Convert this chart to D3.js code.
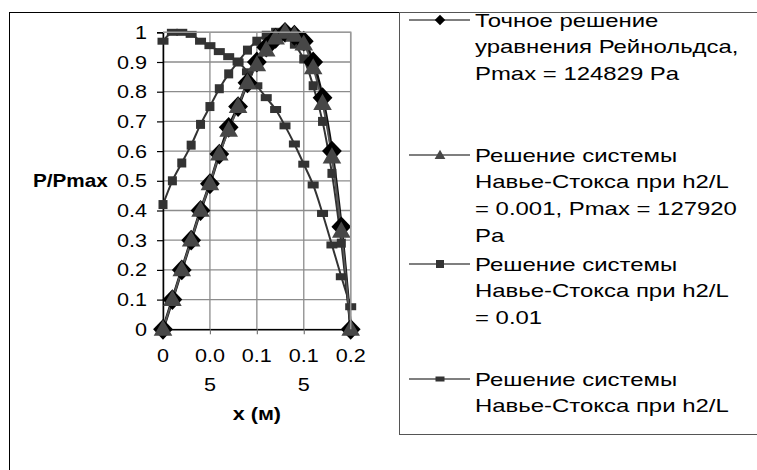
<!DOCTYPE html>
<html>
<head>
<meta charset="utf-8">
<script src="https://cdn.jsdelivr.net/npm/d3@7"></script>
<style>
  body { margin: 0; background: #fff; }
  svg { display: block; font-family: "Liberation Sans", Arial, sans-serif; }
</style>
</head>
<body>
<div id="chart"></div>
<script>
// x positions along the bearing (m)
var xValues = [0, 0.01, 0.02, 0.03, 0.04, 0.05, 0.06, 0.07, 0.08, 0.09, 0.1,
	0.11, 0.12, 0.13, 0.14, 0.15, 0.16, 0.17, 0.18, 0.19, 0.2];

// P/Pmax for each solution
var reynolds = [0, 0.10, 0.20, 0.30, 0.40, 0.49, 0.59, 0.68, 0.75, 0.83, 0.90,
	0.95, 0.98, 1.0, 0.99, 0.97, 0.90, 0.78, 0.60, 0.345, 0];
var ns0001 = [0, 0.10, 0.20, 0.30, 0.40, 0.49, 0.59, 0.67, 0.75, 0.83, 0.89,
	0.94, 0.98, 1.0, 0.99, 0.96, 0.88, 0.76, 0.58, 0.33, 0];
var ns001 = [0.42, 0.50, 0.56, 0.62, 0.69, 0.75, 0.81, 0.86, 0.90, 0.94, 0.97,
	0.99, 1.0, 0.995, 0.96, 0.91, 0.82, 0.70, 0.525, 0.29, 0];
var nsOther = [0.97, 1.0, 1.0, 0.993, 0.97, 0.955, 0.935, 0.918, 0.90, 0.867, 0.82,
	0.78, 0.74, 0.685, 0.624, 0.556, 0.486, 0.39, 0.284, 0.177, 0.076];

var yTicks = [0, 0.1, 0.2, 0.3, 0.4, 0.5, 0.6, 0.7, 0.8, 0.9, 1];
var xTicks = [0, 0.05, 0.1, 0.15, 0.2];
// Excel wrapped the x tick labels
var xTickLabels = [["0"], ["0.0", "5"], ["0.1"], ["0.1", "5"], ["0.2"]];

var legendLabels = [
	["Точное решение", "уравнения Рейнольдса,", "Pmax = 124829 Pa"],
	["Решение системы", "Навье-Стокса при h2/L", "= 0.001, Pmax = 127920", "Pa"],
	["Решение системы", "Навье-Стокса при h2/L", "= 0.01"],
	["Решение системы", "Навье-Стокса при h2/L"]
];

var width = 757, height = 470;
var plot = { left: 163, right: 350.7, top: 32.3, bottom: 329.3 };
var textScale = 1.2;   // the original text is drawn wider than the font
var legendScale = 1.33;

var svg = d3.select("#chart").append("svg")
	.attr("width", width)
	.attr("height", height);

svg.append("rect").attr("width", width).attr("height", height).attr("fill", "#fff");

// outer chart border (runs off the right and bottom edges)
svg.append("rect")
	.attr("x", 9.5).attr("y", 12.5)
	.attr("width", 900).attr("height", 600)
	.attr("fill", "none").attr("stroke", "#000");

var x = d3.scaleLinear().domain([0, 0.2]).range([plot.left, plot.right]);
var y = d3.scaleLinear().domain([0, 1]).range([plot.bottom, plot.top]);

// grid
var grid = svg.append("g");
grid.selectAll("line.h").data(yTicks).enter().append("line")
	.attr("x1", plot.left).attr("x2", plot.right)
	.attr("y1", function(d) { return y(d); })
	.attr("y2", function(d) { return y(d); })
	.attr("stroke", "#8c8c8c").attr("stroke-width", 1.3);
grid.selectAll("line.v").data(xTicks).enter().append("line")
	.attr("x1", function(d) { return x(d); })
	.attr("x2", function(d) { return x(d); })
	.attr("y1", plot.top).attr("y2", plot.bottom)
	.attr("stroke", "#8c8c8c").attr("stroke-width", 1.3);

// axes
var yAxis = svg.append("g")
	.attr("transform", "translate(" + plot.left + ",0)")
	.call(d3.axisLeft(y).tickValues(yTicks).tickSize(6).tickFormat(""));
var xAxis = svg.append("g")
	.attr("transform", "translate(0," + plot.bottom + ")")
	.call(d3.axisBottom(x).tickValues(xTicks).tickSize(5).tickFormat(""));
[yAxis, xAxis].forEach(function(a) {
	a.select(".domain").attr("stroke", "#000").attr("stroke-width", 1.5);
	a.selectAll(".tick line").attr("stroke", "#000").attr("stroke-width", 1.2);
});
xAxis.selectAll(".tick line").attr("stroke", "#777");

// y tick labels
svg.selectAll("g.ylab").data(yTicks).enter().append("g")
	.attr("transform", function(d) {
		return "translate(147," + (y(d) + 6.5) + ") scale(" + textScale + ",1)";
	})
	.append("text")
	.attr("text-anchor", "end")
	.attr("font-size", 18)
	.text(function(d) { return d === 0 || d === 1 ? d : d.toFixed(1); });

// x tick labels
var xl = svg.selectAll("g.xlab").data(xTicks).enter().append("g")
	.attr("transform", function(d) {
		return "translate(" + x(d) + ",362) scale(" + textScale + ",1)";
	});
xl.append("text")
	.attr("text-anchor", "middle")
	.attr("font-size", 18)
	.selectAll("tspan")
	.data(function(d, i) { return xTickLabels[i]; })
	.enter().append("tspan")
	.attr("x", 0)
	.attr("dy", function(d, i) { return i === 0 ? 0 : 29; })
	.text(function(d) { return d; });

// axis titles
svg.append("g")
	.attr("transform", "translate(33," + (y(0.5) + 6.5) + ") scale(1.15,1)")
	.append("text")
	.attr("font-size", 18).attr("font-weight", "bold")
	.text("P/Pmax");
svg.append("g")
	.attr("transform", "translate(" + x(0.1) + ",420) scale(1.2,1)")
	.append("text")
	.attr("text-anchor", "middle")
	.attr("font-size", 18).attr("font-weight", "bold")
	.text("x (м)");

// series
var line = d3.line()
	.x(function(d, i) { return x(xValues[i]); })
	.y(function(d) { return y(d); })
	.curve(d3.curveCatmullRom.alpha(0.5));

var diamond = d3.symbol().type(d3.symbolDiamond2).size(250);
var triangle = d3.symbol().type(d3.symbolTriangle).size(150);

function drawLine(values, color, w) {
	svg.append("path")
		.attr("d", line(values))
		.attr("fill", "none")
		.attr("stroke", color)
		.attr("stroke-width", w);
}

drawLine(nsOther, "#333", 2);
drawLine(ns001, "#333", 2);
drawLine(reynolds, "#111", 3);
drawLine(ns0001, "#555", 2);

svg.selectAll("rect.other").data(nsOther).enter().append("rect")
	.attr("x", function(d, i) { return x(xValues[i]) - 5.5; })
	.attr("y", function(d) { return y(d) - 3.5; })
	.attr("width", 11).attr("height", 7)
	.attr("fill", "#333");

svg.selectAll("rect.sq").data(ns001).enter().append("rect")
	.attr("x", function(d, i) { return x(xValues[i]) - 4.5; })
	.attr("y", function(d) { return y(d) - 4.5; })
	.attr("width", 9).attr("height", 9)
	.attr("fill", "#333");

svg.selectAll("path.dia").data(reynolds).enter().append("path")
	.attr("transform", function(d, i) {
		return "translate(" + x(xValues[i]) + "," + y(d) + ") scale(1,1.05)";
	})
	.attr("d", diamond)
	.attr("fill", "#000");

svg.selectAll("path.tri").data(ns0001).enter().append("path")
	.attr("transform", function(d, i) {
		return "translate(" + x(xValues[i]) + "," + (y(d) + 1) + ")";
	})
	.attr("d", triangle)
	.attr("fill", "#474747");

// plot area border top/right
svg.append("path")
	.attr("d", "M" + plot.left + "," + plot.top + "H" + plot.right + "V" + plot.bottom)
	.attr("fill", "none").attr("stroke", "#999").attr("stroke-width", 1.5);

// legend
var legendX = 399.5, legendBottom = 434.5;
svg.append("rect")
	.attr("x", legendX).attr("y", 12.5)
	.attr("width", 500).attr("height", legendBottom - 12.5)
	.attr("fill", "#fff").attr("stroke", "#555");

var legendY = [20, 155, 264, 379];
var item = svg.selectAll("g.leg").data(legendLabels).enter().append("g")
	.attr("transform", function(d, i) { return "translate(0," + legendY[i] + ")"; });
item.append("line")
	.attr("x1", 409).attr("x2", 470).attr("y1", 0).attr("y2", 0)
	.attr("stroke", "#000").attr("stroke-width", 1.2);
item.each(function(d, i) {
	var g = d3.select(this);
	if (i === 0)
		g.append("path").attr("transform", "translate(440,0)")
			.attr("d", d3.symbol().type(d3.symbolDiamond2).size(70)).attr("fill", "#000");
	else if (i === 1)
		g.append("path").attr("transform", "translate(440,1)")
			.attr("d", d3.symbol().type(d3.symbolTriangle).size(50)).attr("fill", "#474747");
	else if (i === 2)
		g.append("rect").attr("x", 436).attr("y", -4).attr("width", 8).attr("height", 8).attr("fill", "#333");
	else
		g.append("rect").attr("x", 435.5).attr("y", -2.5).attr("width", 9).attr("height", 5).attr("fill", "#333");
});
item.append("g")
	.attr("transform", "translate(475,6.5) scale(" + legendScale + ",1)")
	.append("text")
	.attr("font-size", 18)
	.selectAll("tspan")
	.data(function(d) { return d; })
	.enter().append("tspan")
	.attr("x", 0)
	.attr("dy", function(d, i) { return i === 0 ? 0 : 27; })
	.text(function(d) { return d; });
</script>
</body>
</html>
